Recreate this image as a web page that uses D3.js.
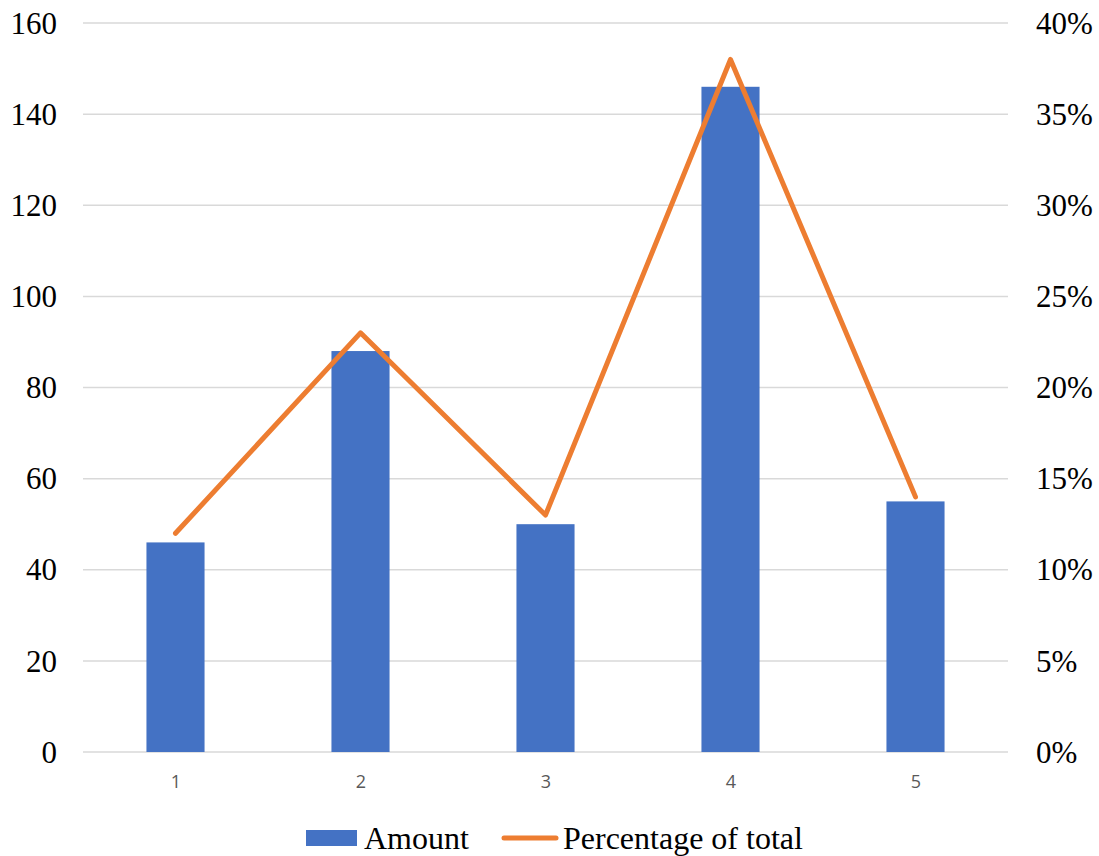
<!DOCTYPE html>
<html>
<head>
<meta charset="utf-8">
<script src="https://cdn.jsdelivr.net/npm/d3@7/dist/d3.min.js"></script>
<style>
  html, body { margin: 0; padding: 0; background: #fff; }
  svg { display: block; }
  .serif text, text.serif { font-family: "Liberation Serif", "Times New Roman", serif; }
</style>
</head>
<body>
<svg id="chart" width="1099" height="856"></svg>
<script>
// Category labels and series
const categories = ["1", "2", "3", "4", "5"];
const amounts = [46, 88, 50, 146, 55];
const percentages = [0.12, 0.23, 0.13, 0.38, 0.14];
const leftTicks = [0, 20, 40, 60, 80, 100, 120, 140, 160];
const rightTicks = [0, 0.05, 0.10, 0.15, 0.20, 0.25, 0.30, 0.35, 0.40];
const seriesNames = ["Amount", "Percentage of total"];

const svg = d3.select("#chart");
const plot = { left: 83, right: 1008, top: 23, bottom: 752 };
const serif = "Liberation Serif, Times New Roman, serif";

const x = d3.scaleBand().domain(categories).range([plot.left, plot.right]).paddingInner(0.686).paddingOuter(0.343);
const xc = d3.scalePoint().domain(categories).range([plot.left, plot.right]).padding(0.5);
const yL = d3.scaleLinear().domain([0, 160]).range([plot.bottom, plot.top]);
const yR = d3.scaleLinear().domain([0, 0.40]).range([plot.bottom, plot.top]);

// Gridlines
svg.append("g").selectAll("line").data(leftTicks).join("line")
  .attr("x1", plot.left).attr("x2", plot.right)
  .attr("y1", d => yL(d)).attr("y2", d => yL(d))
  .attr("stroke", "#d9d9d9").attr("stroke-width", 1.5);

// Left axis labels
const leftAxis = d3.axisLeft(yL).tickValues(leftTicks).tickSize(0).tickPadding(0);
const gl = svg.append("g").attr("class", "serif").attr("transform", `translate(57,0)`).call(leftAxis);
gl.attr("font-family", null);
gl.select(".domain").remove();
gl.selectAll("text").style("font-family", serif).style("font-size", "31px").attr("fill", "#000").attr("dy", "0.33em");

// Right axis labels
const rightAxis = d3.axisRight(yR).tickValues(rightTicks).tickSize(0).tickPadding(0).tickFormat(d3.format(".0%"));
const gr = svg.append("g").attr("class", "serif").attr("transform", `translate(1036,0)`).call(rightAxis);
gr.attr("font-family", null);
gr.select(".domain").remove();
gr.selectAll("text").style("font-family", serif).style("font-size", "31px").attr("fill", "#000").attr("dy", "0.33em");

// Category axis labels
const bottomAxis = d3.axisBottom(xc).tickSize(0).tickPadding(0);
const gb = svg.append("g").attr("transform", `translate(0,775)`).call(bottomAxis);
gb.select(".domain").remove();
gb.selectAll("text").style("font-family", "Open Sans, Liberation Sans, sans-serif").style("font-size", "18px").attr("fill", "#595959");

// Bars
svg.append("g").selectAll("rect").data(amounts).join("rect")
  .attr("x", (d, i) => x(categories[i]))
  .attr("width", x.bandwidth())
  .attr("y", d => yL(d))
  .attr("height", d => yL(0) - yL(d))
  .attr("fill", "#4472c4");

// Percentage line
const line = d3.line().x((d, i) => xc(categories[i])).y(d => yR(d));
svg.append("path").datum(percentages)
  .attr("d", line)
  .attr("fill", "none")
  .attr("stroke", "#ed7d31")
  .attr("stroke-width", 5)
  .attr("stroke-linejoin", "round")
  .attr("stroke-linecap", "round");

// Legend
const legend = svg.append("g");
legend.append("rect").attr("x", 306).attr("y", 830).attr("width", 51).attr("height", 16).attr("fill", "#4472c4");
legend.append("text").attr("class", "serif").attr("x", 364).attr("y", 849).text(seriesNames[0])
  .style("font-size", "32px").attr("fill", "#000");
legend.append("line").attr("x1", 504).attr("x2", 556).attr("y1", 838).attr("y2", 838)
  .attr("stroke", "#ed7d31").attr("stroke-width", 5).attr("stroke-linecap", "round");
legend.append("text").attr("class", "serif").attr("x", 563).attr("y", 849).text(seriesNames[1])
  .style("font-size", "32px").attr("fill", "#000");
</script>
</body>
</html>
